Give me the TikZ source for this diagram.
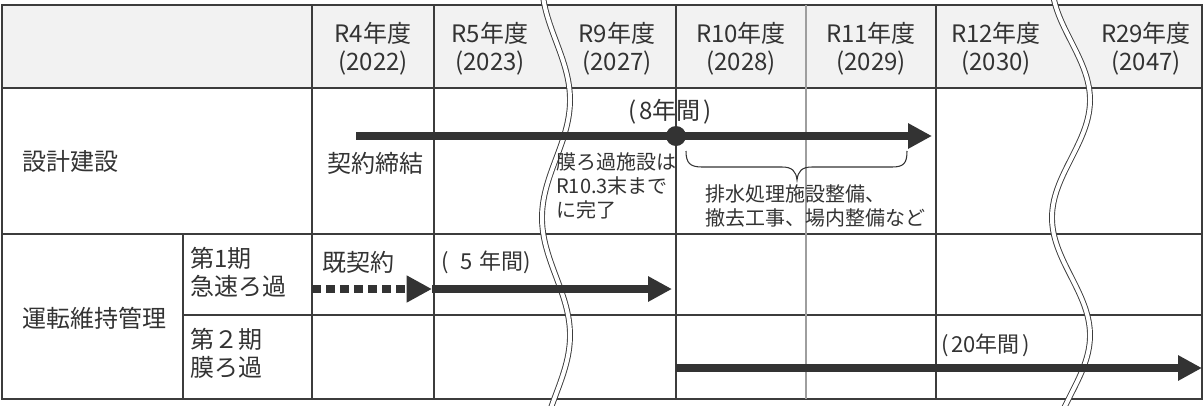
\documentclass[tikz,border=0pt]{standalone}
\usepackage{fontspec}
\setmainfont{Noto Sans CJK JP}
\usetikzlibrary{arrows.meta}
\definecolor{ink}{HTML}{333333}
\definecolor{gridc}{HTML}{3C3C3C}
\definecolor{hdr}{HTML}{F2F2F2}
\begin{document}
\begin{tikzpicture}[x=0.75pt,y=-0.75pt,
  big/.style={font=\fontsize{18}{21}\selectfont, text=ink, inner sep=0pt},
  mid/.style={font=\fontsize{16.5}{20}\selectfont, text=ink, inner sep=0pt},
  small/.style={font=\fontsize{15}{18}\selectfont, text=ink, inner sep=0pt, align=left},
  hd/.style={big, align=center},
  gridline/.style={draw=gridc, line width=0.8pt},
  greyline/.style={draw=black!38, line width=2.2pt},
  wave/.style={draw=gridc, line width=0.7pt, double=white, double distance=3pt},
  bar/.style={draw=ink, line width=6pt, -{Triangle[length=18pt,width=18pt]}},
  dotbar/.style={draw=ink, line width=6pt, dash pattern=on 6.5pt off 4pt, -{Triangle[length=19pt,width=19pt]}},
  bracec/.style={draw=ink, line width=0.8pt},
  dotc/.style={circle, fill=ink, minimum size=15pt, inner sep=0pt}]
\useasboundingbox (0,0) rectangle (1204,405);
% header background
\fill[hdr] (2,5) rectangle (1202,88);
% grid
\draw[gridline] (2,5) rectangle (1202,399);
\draw[gridline] (2,88) -- (1202,88);
\draw[gridline] (2,234) -- (1202,234);
\draw[gridline] (183,315) -- (1202,315);
\draw[gridline] (183,234) -- (183,399);
\draw[gridline] (312,5) -- (312,399);
\draw[gridline] (434,5) -- (434,399);
\draw[gridline] (676,5) -- (676,399);
\draw[greyline] (806,5) -- (806,399);
\draw[gridline] (936,5) -- (936,399);
% break waves
\draw[wave] plot[variable=\t, domain=-5:410, samples=80, smooth] ({556+14*cos(1.53*(\t-100))}, \t);
\draw[wave] plot[variable=\t, domain=-5:410, samples=80, smooth] ({1071+19*cos(1.53*(\t-100))}, \t);
% header texts
\node[hd] (h4) at (373,49) {R4年度\\(2022)};
\node[hd] (h5) at (490,49) {R5年度\\(2023)};
\node[hd] (h9) at (617,49) {R9年度\\(2027)};
\node[hd] (h10) at (741,49) {R10年度\\(2028)};
\node[hd] (h11) at (871,49) {R11年度\\(2029)};
\node[hd] (h12) at (996,49) {R12年度\\(2030)};
\node[hd] (h29) at (1146,49) {R29年度\\(2047)};
% row labels
\node[big, anchor=west] (sekkei) at (22,161) {設計建設};
\node[big, anchor=west] (unten) at (22,318) {運転維持管理};
\node[big, anchor=west, align=left] (ki1) at (190,272) {第1期\\急速ろ過};
\node[big, anchor=west, align=left] (ki2) at (190,353) {第２期\\膜ろ過};
% design-build row
\coordinate (dbs) at (356,136);
\coordinate (dbe) at (932,136);
\draw[bar] (dbs) -- (dbe);
\node[dotc] (mid) at (676,136) {};
\node[big, anchor=west] (y8) at (628,112) {(\hspace{2pt}8年間\hspace{2pt})};
\node[big, anchor=west] (keiyaku) at (327,163) {契約締結};
\node[small, anchor=north west, align=left] (maku) at (556,152) {膜ろ過施設は\\R10.3末まで\\に完了};
\draw[bracec] (686,151) .. controls (686,163) and (690,167) .. (702,167) -- (782,167) .. controls (792,167) and (796,171) .. (797,180) .. controls (798,171) and (802,167) .. (812,167) -- (892,167) .. controls (904,167) and (907,163) .. (907,151);
\node[small, anchor=north west, align=left] (haisui) at (705,184) {排水処理施設整備、\\撤去工事、場内整備など};
% operation phase 1
\node[big, anchor=west] (kikeiyaku) at (322,262) {既契約};
\node[mid, anchor=west] (y5) at (441,262) {(\hspace{9pt}5\hspace{5pt}年間)};
\coordinate (p1a) at (312,289);
\coordinate (p1b) at (432,289);
\coordinate (p1c) at (672,289);
\draw[dotbar] (p1a) -- (p1b);
\draw[bar] (p1b) -- (p1c);
% operation phase 2
\node[mid, anchor=west] (y20) at (941,345) {(\hspace{2pt}20年間\hspace{2pt})};
\coordinate (p2a) at (676,368);
\coordinate (p2b) at (1202,368);
\draw[bar] (p2a) -- (p2b);
\end{tikzpicture}
\end{document}
